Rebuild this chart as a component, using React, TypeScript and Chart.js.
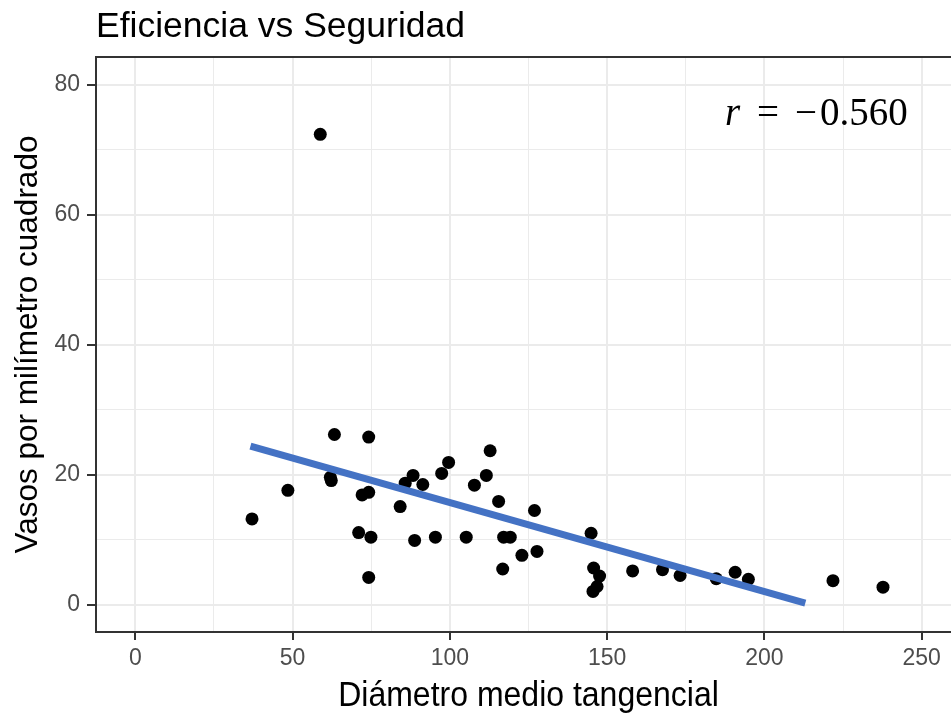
import React, { useEffect, useRef } from "react";
import { Chart, registerables } from "chart.js";

Chart.register(...registerables);

// Diámetro medio tangencial (µm) de cada muestra
const diametro = [
  37.1, 48.5, 58.8, 62.0, 62.3, 63.3, 71.0, 72.1, 74.2, 74.2, 74.2, 74.9,
  84.2, 85.8, 88.3, 88.8, 91.4, 95.4, 97.4, 99.6, 105.2, 107.8, 111.6, 112.8,
  115.5, 116.8, 117.1, 119.2, 122.9, 126.9, 127.7, 144.9, 145.7, 147.6, 146.8,
  145.5, 158.1, 167.6, 173.2, 184.7, 190.7, 194.9, 221.8, 237.7,
];

// Vasos por milímetro cuadrado de cada muestra
const vasos = [
  13.2, 17.6, 72.4, 19.6, 19.1, 26.2, 11.1, 16.9, 25.8, 17.3, 4.2, 10.4,
  15.1, 18.7, 19.9, 9.9, 18.5, 10.4, 20.2, 21.9, 10.4, 18.4, 19.9, 23.7,
  15.9, 5.5, 10.4, 10.4, 7.6, 14.5, 8.2, 11.0, 5.65, 4.4, 2.8,
  2.05, 5.2, 5.4, 4.5, 4.0, 5.0, 3.9, 3.7, 2.7,
];

// Recta de ajuste lineal (extremos)
const ajusteX = [36.6, 213.0];
const ajusteY = [24.4, 0.26];

// Marcas de los ejes: principales y secundarias
const xTicks = [0, 25, 50, 75, 100, 125, 150, 175, 200, 225, 250];
const xMajor = [0, 50, 100, 150, 200, 250];
const yTicks = [0, 10, 20, 30, 40, 50, 60, 70, 80];
const yMajor = [0, 20, 40, 60, 80];

const titulo = "Eficiencia vs Seguridad";
const tituloX = "Diámetro medio tangencial";
const tituloY = "Vasos por milímetro cuadrado";
const coefR = "0.560";
const posR = { x: 187.5, y: 73.8 };

const SANS = '"Liberation Sans", Arial, sans-serif';
const SERIF = '"Liberation Serif", "Times New Roman", serif';

const decoracion = {
  id: "decoracion",
  afterDraw(chart: any) {
    const { ctx, chartArea: a, scales } = chart;
    ctx.save();

    // Borde del panel
    ctx.strokeStyle = "#333333";
    ctx.lineWidth = 2;
    ctx.strokeRect(a.left, a.top, a.right - a.left, a.bottom - a.top);

    // Título
    ctx.fillStyle = "#000000";
    ctx.textBaseline = "alphabetic";
    ctx.textAlign = "left";
    ctx.font = `35.5px ${SANS}`;
    ctx.fillText(titulo, a.left, 37);

    // Título del eje X
    ctx.save();
    ctx.translate((a.left + a.right) / 2, 706);
    ctx.scale(1, 1.1);
    ctx.textAlign = "center";
    ctx.font = `32px ${SANS}`;
    ctx.fillText(tituloX, 0, 0);
    ctx.restore();

    // Título del eje Y
    ctx.save();
    ctx.translate(37, (a.top + a.bottom) / 2);
    ctx.rotate(-Math.PI / 2);
    ctx.textAlign = "center";
    ctx.font = `31.5px ${SANS}`;
    ctx.fillText(tituloY, 0, 0);
    ctx.restore();

    // Coeficiente de correlación
    const x0 = scales.x.getPixelForValue(posR.x);
    const y0 = scales.y.getPixelForValue(posR.y);
    ctx.textAlign = "left";
    ctx.font = `italic 39px ${SERIF}`;
    ctx.fillText("r", x0, y0);
    ctx.font = `39px ${SERIF}`;
    ctx.textAlign = "center";
    ctx.fillText("=", x0 + 43, y0);
    ctx.fillText("\u2212", x0 + 81, y0);
    ctx.textAlign = "left";
    ctx.fillText(coefR, x0 + 95, y0);

    ctx.restore();
  },
};

export default function App() {
  const canvasRef = useRef<HTMLCanvasElement | null>(null);

  useEffect(() => {
    const canvas = canvasRef.current;
    if (!canvas) return;

    const puntos = diametro.map((x, i) => ({ x, y: vasos[i] }));
    const recta = ajusteX.map((x, i) => ({ x, y: ajusteY[i] }));

    const tickFont = { family: SANS, size: 23 };

    const chart = new Chart(canvas, {
      type: "scatter",
      data: {
        datasets: [
          {
            type: "line",
            data: recta,
            borderColor: "#4472C4",
            borderWidth: 7,
            borderCapStyle: "butt",
            pointRadius: 0,
            fill: false,
            order: 0,
          } as any,
          {
            type: "scatter",
            data: puntos,
            backgroundColor: "#000000",
            borderColor: "#000000",
            borderWidth: 0,
            pointRadius: 6.5,
            order: 1,
          },
        ],
      },
      options: {
        responsive: false,
        animation: false,
        layout: { padding: { top: 57, right: 14, left: 0, bottom: 0 } },
        plugins: {
          legend: { display: false },
          tooltip: { enabled: false },
          title: { display: false },
        },
        scales: {
          x: {
            type: "linear",
            min: -12.5,
            max: 262.5,
            afterBuildTicks: (s: any) => {
              s.ticks = xTicks.map((v) => ({ value: v }));
            },
            afterFit: (s: any) => {
              s.height = 82;
            },
            border: { display: false },
            grid: {
              color: "#EBEBEB",
              lineWidth: (c: any) => (xMajor.includes(c.tick?.value) ? 2 : 1),
              tickColor: (c: any) =>
                xMajor.includes(c.tick?.value) ? "#333333" : "rgba(0,0,0,0)",
              tickLength: 8,
              tickWidth: 2,
            },
            ticks: {
              autoSkip: false,
              maxRotation: 0,
              padding: 5,
              color: "#4D4D4D",
              font: tickFont,
              callback: (v: any) => (xMajor.includes(v) ? String(v) : ""),
            },
          },
          y: {
            type: "linear",
            min: -4.2,
            max: 84.3,
            afterBuildTicks: (s: any) => {
              s.ticks = yTicks.map((v) => ({ value: v }));
            },
            afterFit: (s: any) => {
              s.width = 96;
            },
            border: { display: false },
            grid: {
              color: "#EBEBEB",
              lineWidth: (c: any) => (yMajor.includes(c.tick?.value) ? 2 : 1),
              tickColor: (c: any) =>
                yMajor.includes(c.tick?.value) ? "#333333" : "rgba(0,0,0,0)",
              tickLength: 9,
              tickWidth: 2,
            },
            ticks: {
              autoSkip: false,
              padding: 7,
              color: "#4D4D4D",
              font: tickFont,
              callback: (v: any) => (yMajor.includes(v) ? String(v) : ""),
            },
          },
        },
      } as any,
      plugins: [decoracion],
    });

    return () => chart.destroy();
  }, []);

  return (
    <div
      style={{
        position: "fixed",
        left: 0,
        top: 0,
        width: 951,
        height: 714,
        overflow: "hidden",
        background: "#ffffff",
      }}
    >
      <canvas ref={canvasRef} width={975} height={714} style={{ display: "block" }} />
    </div>
  );
}
